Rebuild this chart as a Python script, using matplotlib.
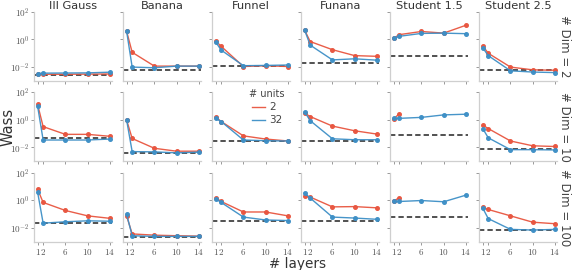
import numpy as np
import matplotlib
matplotlib.use('Agg')
import matplotlib.pyplot as plt
from matplotlib.ticker import FixedLocator, FuncFormatter

plt.rcParams['font.family'] = ['DejaVu Sans']
plt.rcParams['mathtext.fontset'] = 'cm'

layers = [1, 2, 6, 10, 14]
targets = ['Ill Gauss', 'Banana', 'Funnel', 'Funana', 'Student 1.5', 'Student 2.5']
dims = [2, 10, 100]
units = ['2', '32']

# log10(Wass) values, one list per target, for each (dim, units)
log_wass_d2_u2 = [
    [-2.52, -2.52, -2.52, -2.51, -2.50],
    [0.60, -0.93, -1.93, -1.93, -1.93],
    [-0.10, -0.50, -1.96, -1.90, -1.96],
    [0.67, -0.15, -0.74, -1.17, -1.22],
    [0.09, 0.35, 0.58, 0.46, 1.03],
    [-0.46, -1.00, -2.00, -2.20, -2.23],
]
log_wass_d2_u32 = [
    [-2.47, -2.44, -2.43, -2.42, -2.37],
    [0.60, -2.00, -2.05, -1.93, -1.93],
    [-0.18, -0.77, -1.90, -1.88, -1.85],
    [0.67, -0.41, -1.48, -1.40, -1.50],
    [0.09, 0.23, 0.44, 0.46, 0.42],
    [-0.60, -1.17, -2.27, -2.36, -2.40],
]
log_wass_d10_u2 = [
    [1.12, -0.49, -1.05, -1.05, -1.19],
    [-0.01, -1.35, -2.06, -2.27, -2.27],
    [0.20, -0.12, -1.16, -1.39, -1.53],
    [0.48, 0.24, -0.45, -0.79, -1.03],
    [0.06, 0.45, np.nan, np.nan, np.nan],
    [-0.38, -0.63, -1.53, -1.88, -1.93],
]
log_wass_d10_u32 = [
    [1.00, -1.46, -1.46, -1.46, -1.39],
    [-0.01, -2.30, -2.32, -2.39, -2.34],
    [0.11, -0.12, -1.46, -1.51, -1.53],
    [0.57, -0.06, -1.37, -1.44, -1.44],
    [0.11, 0.11, 0.18, 0.36, 0.41],
    [-0.63, -1.30, -2.16, -2.16, -2.18],
]
log_wass_d100_u2 = [
    [0.80, -0.16, -0.74, -1.13, -1.31],
    [-1.13, -2.44, -2.53, -2.57, -2.60],
    [0.18, -0.09, -0.85, -0.85, -1.13],
    [0.30, 0.23, -0.48, -0.46, -0.55],
    [-0.05, 0.18, np.nan, np.nan, np.nan],
    [-0.51, -0.67, -1.13, -1.59, -1.70],
]
log_wass_d100_u32 = [
    [0.60, -1.66, -1.56, -1.49, -1.52],
    [-1.01, -2.57, -2.62, -2.62, -2.62],
    [0.11, -0.16, -1.22, -1.43, -1.47],
    [0.53, 0.16, -1.22, -1.29, -1.38],
    [-0.09, -0.09, -0.02, -0.11, 0.37],
    [-0.57, -1.33, -2.11, -2.16, -2.11],
]
# log10 of reference (dashed) level per dim, per target
log_ref_d2 = [-2.55, -2.19, -1.90, -1.67, -1.22, -2.18]
log_ref_d10 = [-1.35, -2.39, -1.53, -1.51, -1.12, -2.11]
log_ref_d100 = [-1.68, -2.69, -1.49, -1.47, -1.20, -2.18]

series = {
    2: (log_wass_d2_u2, log_wass_d2_u32, log_ref_d2),
    10: (log_wass_d10_u2, log_wass_d10_u32, log_ref_d10),
    100: (log_wass_d100_u2, log_wass_d100_u32, log_ref_d100),
}

red = '#e8553f'
blue = '#3d8fc6'
spine_col = '#cfcfcf'

fig, axes = plt.subplots(3, 6, figsize=(5.72, 2.70), dpi=100)
fig.subplots_adjust(left=0.0594, right=0.974, top=0.956, bottom=0.105,
                    wspace=0.141, hspace=0.165)

def yfmt(v, pos):
    e = int(round(np.log10(v)))
    return r'$10^{%d}$' % e

for r, d in enumerate(dims):
    u2, u32, ref = series[d]
    for c, t in enumerate(targets):
        ax = axes[r, c]
        ax.set_yscale('log')
        ax.axhline(10 ** ref[c], color='#222222', ls=(0, (3.5, 2)), lw=1.1, zorder=1)
        ax.plot(layers, 10 ** np.array(u2[c]), color=red, marker='o', ms=2.6,
                lw=1.0, alpha=0.95, zorder=3, label=units[0])
        ax.plot(layers, 10 ** np.array(u32[c]), color=blue, marker='o', ms=2.6,
                lw=1.0, alpha=0.95, zorder=4, label=units[1])
        ax.set_ylim(1e-3, 1e2)
        ax.set_xlim(0.35, 14.4)
        ax.yaxis.set_major_locator(FixedLocator([1e-2, 1e0, 1e2]))
        ax.yaxis.set_minor_locator(FixedLocator([]))
        ax.xaxis.set_major_locator(FixedLocator(layers))
        ax.yaxis.set_major_formatter(FuncFormatter(yfmt))
        ax.xaxis.set_major_formatter(FuncFormatter(lambda v, p: r'$%d$' % v))
        for s in ['top', 'right']:
            ax.spines[s].set_visible(False)
        for s in ['left', 'bottom']:
            ax.spines[s].set_color(spine_col)
            ax.spines[s].set_linewidth(0.9)
        ax.tick_params(axis='both', which='both', direction='out', length=2.5,
                       width=0.6, color='#888888', labelsize=6.6,
                       labelcolor='#555555', pad=1.0)
        if c != 0:
            ax.tick_params(axis='y', labelleft=False)
        if r != 2:
            ax.tick_params(axis='x', labelbottom=False)
        if r == 0:
            ax.set_title(t, fontsize=8.2, color='#333333', pad=2)
        if c == 5:
            fig.text(0.987, (ax.get_position().y0 + ax.get_position().y1) / 2,
                     '# Dim = %d' % d, rotation=270, ha='center', va='center',
                     fontsize=8.5, color='#444444')

leg = axes[1, 2].legend(title='# units', loc='upper right', frameon=False,
                        fontsize=7.5, title_fontsize=7, handlelength=1.2,
                        handletextpad=0.4, labelspacing=0.3, borderpad=0.0,
                        bbox_to_anchor=(1.0, 1.12))
for h in leg.legend_handles:
    h.set_marker('')
for txt in leg.get_texts():
    txt.set_color('#444444')
leg.get_title().set_color('#444444')

fig.text(0.014, 0.53, 'Wass', rotation=90, ha='center', va='center',
         fontsize=10.5, color='#333333')
fig.text(0.52, -0.004, '# layers', ha='center', va='bottom',
         fontsize=9.8, color='#333333')

fig.savefig('out.png', dpi=100)
